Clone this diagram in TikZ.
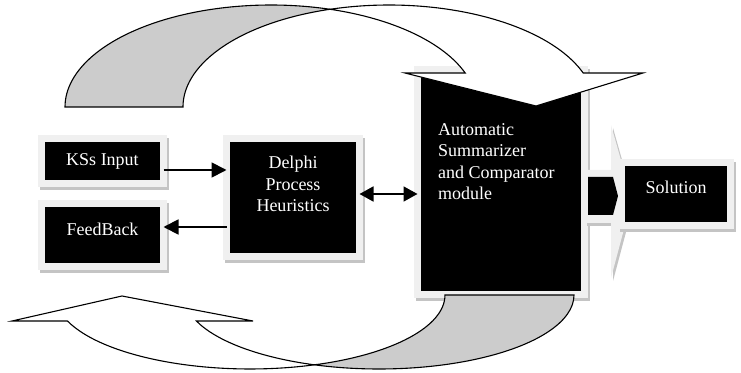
\documentclass[tikz,border=0pt]{standalone}
\usepackage{fontspec}
\setmainfont{Liberation Serif}
\usetikzlibrary{arrows.meta}
\definecolor{framegray}{HTML}{F0F0F0}
\definecolor{shadowgray}{HTML}{C4C4C4}
\definecolor{bandgray}{HTML}{CCCCCC}
\begin{document}
\begin{tikzpicture}[x=1pt,y=1pt,
  blackbox/.style={fill=black, draw=framegray, line width=7pt, inner sep=0pt, outer sep=0pt,
    preaction={fill=shadowgray, draw=shadowgray, line width=7pt, transform canvas={shift={(2pt,-3pt)}}}},
  lbl/.style={text=white, font=\fontsize{18}{21.5}\selectfont, inner sep=0pt, align=center},
  arr/.style={line width=1.8pt, -{Triangle[length=15pt,width=15pt]}},
  darr/.style={line width=1.8pt, {Triangle[length=14pt,width=15pt]}-{Triangle[length=14pt,width=15pt]}},
  band/.style={line width=1.1pt, draw=black}]
\useasboundingbox (0,0) rectangle (741,372);

% boxes
\node[blackbox, minimum width=122pt, minimum height=45pt] (ks) at (102.5,211) {};
\node[blackbox, minimum width=122pt, minimum height=63pt] (fb) at (102.5,137) {};
\node[blackbox, minimum width=133pt, minimum height=118pt] (dp) at (293,174.5) {};
\node[blackbox, minimum width=167pt, minimum height=225pt] (asc) at (501,190) {};

% block arrow to Solution
\fill[shadowgray] (587,199) -- (613,199) -- (613,244) -- (634,170) -- (613,91) -- (613,146) -- (587,146) -- cycle;
\fill[framegray] (585,202) -- (611,202) -- (611,247) -- (632,173) -- (611,94) -- (611,149) -- (585,149) -- cycle;
\fill[black] (588,195) -- (613,195) -- (618,176) -- (613,157) -- (588,157) -- cycle;

\node[blackbox, minimum width=109pt, minimum height=63pt] (sol) at (676,178) {};

% texts
\node[lbl] (kst) at (ks.center) {KSs Input};
\node[lbl] (fbt) at ([yshift=6pt]fb.center) {FeedBack};
\node[lbl] (dpt) at ([yshift=13.5pt]dp.center) {Delphi\\Process\\Heuristics};
\node[lbl, align=left, anchor=west] (asct) at (438,210.5) {Automatic\\Summarizer\\and Comparator\\module};
\node[lbl] (solt) at ([yshift=7pt]sol.center) {Solution};

% connectors
\draw[arr] ([yshift=-9pt]ks.east) -- ([yshift=-9pt]ks.east -| dp.west);
\draw[arr] ([yshift=-29.5pt]dp.west) -- ([yshift=-29.5pt]dp.west -| fb.east);
\draw[darr] ([yshift=3.5pt]dp.east) -- ([yshift=3.5pt]dp.east -| asc.west);

% top curved arrow
\filldraw[band, fill=bandgray] (65,265) arc[start angle=180, end angle=73.36, x radius=206, y radius=102]
  arc[start angle=106.64, end angle=180, x radius=206, y radius=102] -- cycle;
\filldraw[band, fill=white] (330,362.7) arc[start angle=106.64, end angle=19.47, x radius=206, y radius=102]
  -- (643,299) -- (536,266) -- (405,299) -- (465.2,299)
  arc[start angle=19.47, end angle=73.36, x radius=206, y radius=102] -- cycle;

% bottom curved arrow
\filldraw[band, fill=bandgray] (574,77) arc[start angle=0, end angle=-109.32, x radius=195, y radius=74]
  arc[start angle=-70.68, end angle=0, x radius=195, y radius=74] -- cycle;
\filldraw[band, fill=white] (314.5,7.2) arc[start angle=-70.68, end angle=-159.43, x radius=195, y radius=74]
  -- (12,51) -- (122,76) -- (253,51) -- (196.4,51)
  arc[start angle=-159.43, end angle=-109.32, x radius=195, y radius=74] -- cycle;
\end{tikzpicture}
\end{document}
